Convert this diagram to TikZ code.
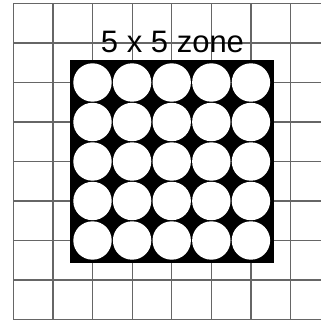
\documentclass[tikz,border=0pt]{standalone}
\usepackage{fontspec}
\setmainfont{Liberation Sans}
\begin{document}
\begin{tikzpicture}[x=1pt,y=-1pt,
  gridline/.style={draw=black!60,line width=1.2pt},
  cell/.style={fill=white}]
\useasboundingbox (0,0) rectangle (321,320);
\begin{scope}
\clip (0,0) rectangle (321,320);
\foreach \k in {0,...,8} {
  \draw[gridline] (13.3,{3.5+39.5*\k}) -- (330,{3.5+39.5*\k});
}
\foreach \k in {0,...,8} {
  \draw[gridline] ({13.3+39.6*\k},3.5) -- ({13.3+39.6*\k},319.5);
}
\end{scope}
\node[font=\fontsize{31}{31}\selectfont,anchor=base,inner sep=0pt] (title) at (172.5,52.5) {5 x 5 zone};
\fill[black] (69.5,60) rectangle (273.5,263);
\foreach \i in {2,...,6} {
  \foreach \j in {2,...,6} {
    \fill[cell] ({13.3+39.6*\i},{3.5+39.5*\j}) circle (19.2);
  }
}
\end{tikzpicture}
\end{document}
